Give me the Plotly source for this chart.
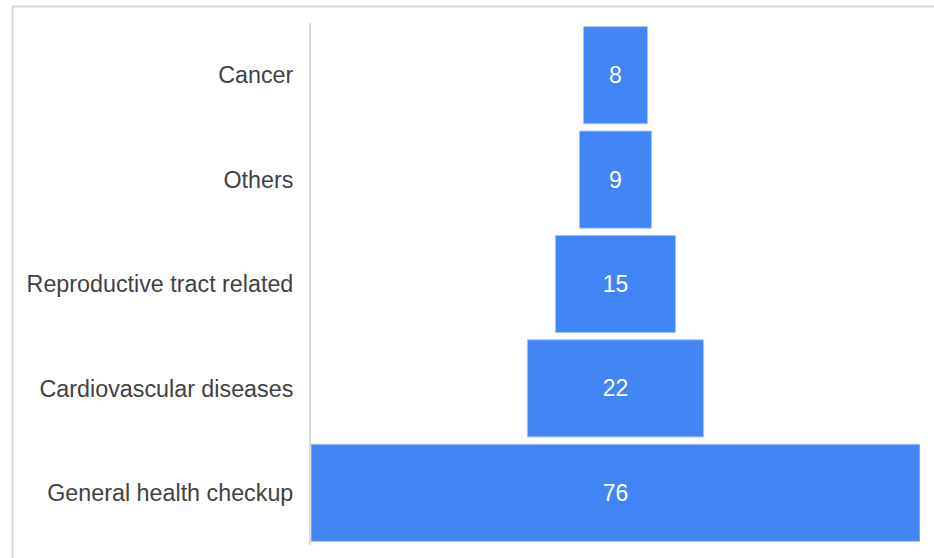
import plotly.graph_objects as go

categories = ["Cancer", "Others", "Reproductive tract related",
              "Cardiovascular diseases", "General health checkup"]
values = [8, 9, 15, 22, 76]

W, H = 934, 558
L, R, T, B = 311, 14, 23, 13
pw, ph = W - L - R, H - T - B

def px_x(x):
    return (x - L) / pw

def px_y(y):
    return (H - B - y) / ph

fig = go.Figure(go.Funnel(
    y=categories,
    x=values,
    textinfo="value",
    textposition="inside",
    constraintext="none",
    insidetextfont=dict(color="white", size=23, family="Liberation Sans, Arial"),
    textfont=dict(color="white", size=23, family="Liberation Sans, Arial"),
    marker=dict(color="#4285F4", line=dict(width=1, color="#a6c4f8")),
    connector=dict(visible=False),
))

border = "#dadada"
fig.update_layout(
    width=W, height=H,
    margin=dict(l=L, r=R, t=T, b=B),
    paper_bgcolor="white",
    plot_bgcolor="white",
    funnelgap=0.07,
    showlegend=False,
    uniformtext=dict(minsize=23, mode="show"),
    font=dict(family="Liberation Sans, Arial", color="#424242", size=23),
    xaxis=dict(visible=False, range=[-38, 38]),
    yaxis=dict(showline=True, linecolor="#d9d9d9", linewidth=2,
               showgrid=False, ticks="", ticklabelstandoff=11,
               tickfont=dict(size=23.3, color="#424242")),
    shapes=[
        dict(type="line", xref="paper", yref="paper",
             x0=px_x(12.5), x1=px_x(940), y0=px_y(6.5), y1=px_y(6.5),
             line=dict(color=border, width=2)),
        dict(type="line", xref="paper", yref="paper",
             x0=px_x(12.5), x1=px_x(12.5), y0=px_y(6.5), y1=px_y(570),
             line=dict(color=border, width=2)),
    ],
)

fig.write_html("out.html")
